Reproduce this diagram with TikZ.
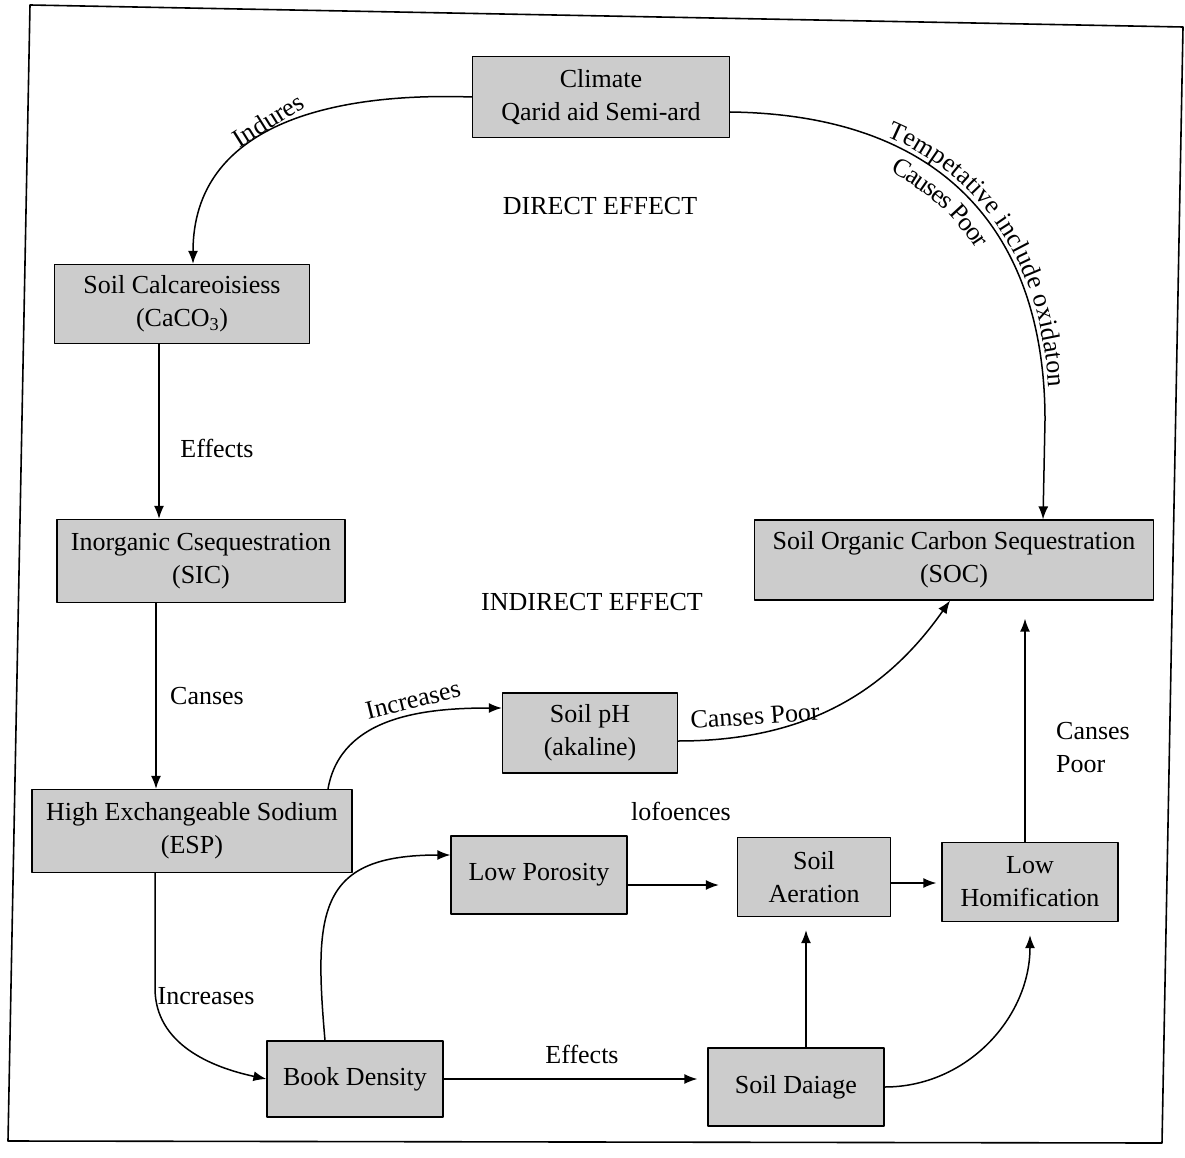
\documentclass[tikz,border=0pt]{standalone}
\usepackage{fontspec}
\setmainfont{Liberation Serif}
\usetikzlibrary{arrows.meta,decorations.text}

\begin{document}
\begin{tikzpicture}[x=1pt,y=1pt,line cap=round,line join=round,
    >={Latex[length=13pt,width=10pt]},
    every node/.style={font=\fontsize{26}{33}\selectfont},
    box/.style={draw,line width=1.2pt,fill=gray!40,align=center,inner sep=2pt},
    link/.style={->,line width=1.5pt}]
  \useasboundingbox (0,0) rectangle (1185,-1158);
  \draw[line width=1.6pt] (30,-5) -- (1183,-27) -- (1162,-1143) -- (8,-1141) -- cycle;

  \node[box,minimum width=257,minimum height=81] (climate) at (601,-97) {Climate\\Qarid aid Semi-ard};
  \node[box,minimum width=255,minimum height=79] (calc) at (182,-304) {Soil Calcareoisiess\\(CaCO\textsubscript{3})};
  \node[box,minimum width=288,minimum height=83] (inorg) at (201,-561) {Inorganic Csequestration\\(SIC)};
  \node[box,minimum width=320,minimum height=83] (esp) at (192,-831) {High Exchangeable Sodium\\(ESP)};
  \node[box,minimum width=175,minimum height=80] (ph) at (590,-733) {Soil pH\\(akaline)};
  \node[box,minimum width=399,minimum height=80] (soc) at (954,-560) {Soil Organic Carbon Sequestration\\(SOC)};
  \node[box,minimum width=176,minimum height=78] (poro) at (539,-875) {Low Porosity};
  \node[box,minimum width=153,minimum height=79] (aer) at (814,-877) {Soil\\Aeration};
  \node[box,minimum width=176,minimum height=79] (hom) at (1030,-882) {Low\\Homification};
  \node[box,minimum width=176,minimum height=76] (book) at (355,-1079) {Book Density};
  \node[box,minimum width=176,minimum height=78] (drain) at (796,-1087) {Soil Daiage};

  \node (direct) at (600,-206) {DIRECT EFFECT};
  \node (indirect) at (592,-602) {INDIRECT EFFECT};
  \node[rotate=32] (indures) at (268,-120) {Indures};
  \node (effA) at (217,-448) {Effects};
  \node (canses) at (207,-696) {Canses};
  \node (incA) at (206,-996) {Increases};
  \node[rotate=14] (incB) at (413,-700) {Increases};
  \node[rotate=4] (poorA) at (755,-716) {Canses Poor};
  \node (influ) at (681,-811) {lofoences};
  \node[align=left] (poorB) at (1093,-748) {Canses\\Poor};
  \node (effB) at (582,-1054) {Effects};

  \draw[link] (climate.west) to[out=178,in=90,looseness=1.1] ([xshift=11pt]calc.north);
  \draw[link] ([yshift=-15pt]climate.east) .. controls (960,-115) and (1045,-250) .. (1045,-420)
    -- ([xshift=89pt]soc.north);
  \path[decorate,decoration={text along path,raise=5pt,text align={left indent=158pt},
      text={|\fontsize{26}{26}\selectfont|Tempetative include oxidaton}}]
    ([yshift=-15pt]climate.east) .. controls (960,-115) and (1045,-250) .. (1045,-420);
  \path[decorate,decoration={text along path,raise=-26pt,text align={left indent=178pt},
      text={|\fontsize{26}{26}\selectfont|Causes Poor}}]
    ([yshift=-15pt]climate.east) .. controls (960,-115) and (1045,-250) .. (1045,-420);

  \draw[link] ([xshift=-23pt]calc.south) -- ([xshift=-23pt]calc.south |- inorg.north);
  \draw[link] ([xshift=-45pt]inorg.south) -- ([xshift=-45pt]inorg.south |- esp.north);
  \draw[link] ([xshift=-37pt]esp.south) -- ++(0,-115) to[out=-90,in=168] (book.west);
  \draw[link] ([xshift=136pt]esp.north) to[out=80,in=180] ([yshift=25pt]ph.west);
  \draw[link] ([yshift=-8pt]ph.east) to[out=0,in=235] ([xshift=-4pt]soc.south);
  \draw[link] ([xshift=-30pt]book.north) to[out=95,in=180,looseness=1.5] ([yshift=20pt]poro.west);
  \draw[link] (book.east) -- ([xshift=-10pt]drain.west |- book.east);
  \draw[link] ([yshift=-10pt]poro.east) -- ([xshift=-18pt,yshift=-10pt]aer.west |- poro.east);
  \draw[link] ([yshift=-6pt]aer.east) -- ([xshift=-5pt,yshift=-6pt]hom.west |- aer.east);
  \draw[link] ([xshift=10pt]drain.north) -- ([xshift=10pt,yshift=-13pt]drain.north |- aer.south);
  \draw[link] (drain.east) to[out=0,in=-90] ([yshift=-13pt]hom.south);
  \draw[link] ([xshift=-5pt]hom.north) -- ([xshift=-5pt,yshift=-18pt]hom.north |- soc.south);
\end{tikzpicture}
\end{document}
